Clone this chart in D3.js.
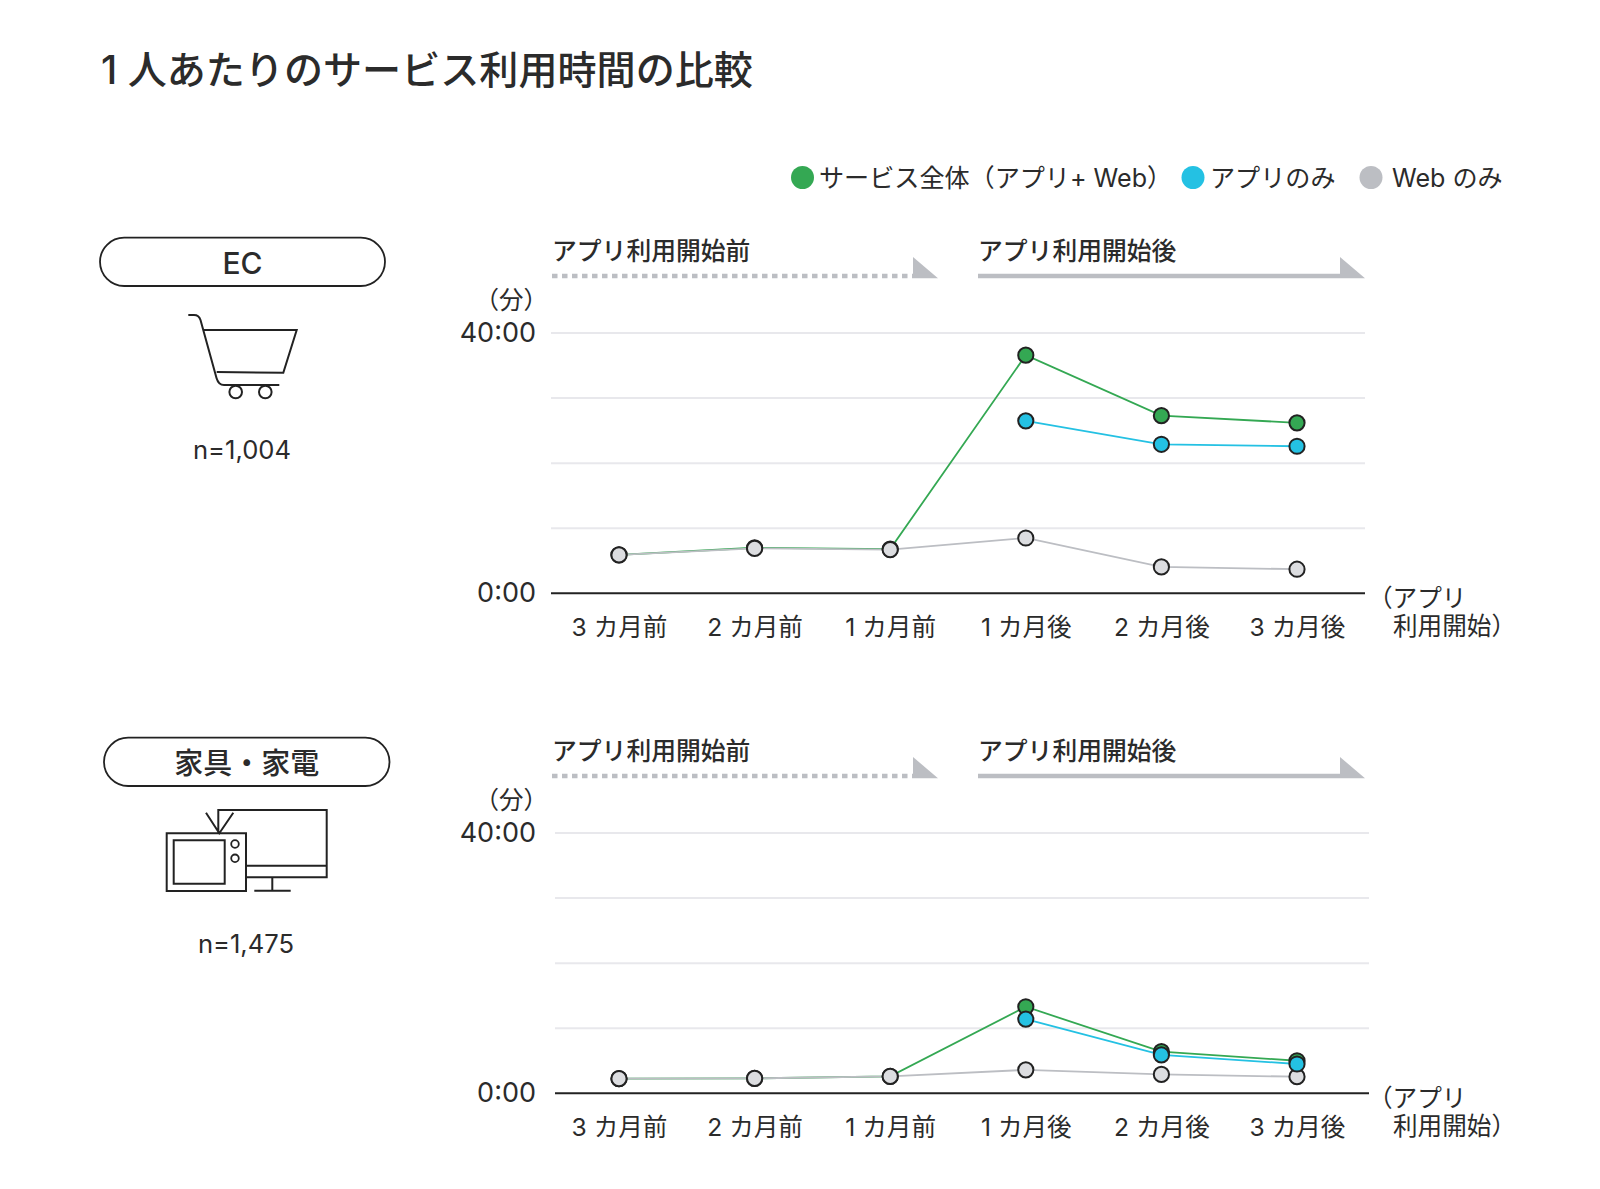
<!DOCTYPE html>
<html>
<head>
<meta charset="utf-8">
<script src="https://cdn.jsdelivr.net/npm/d3@7"></script>
<style>
  html, body { margin: 0; padding: 0; background: #fff; }
  text { font-family: Inter, "Noto Sans CJK JP", sans-serif; fill: #2b2b2b; }
</style>
</head>
<body>
<div id="chart"></div>
<script>
var months = ["3 カ月前", "2 カ月前", "1 カ月前", "1 カ月後", "2 カ月後", "3 カ月後"];
var yTicks = [0, 10, 20, 30, 40];

// minutes
var ecAll = [5.9, 7.0, 6.8, 36.6, 27.3, 26.2];
var ecApp = [null, null, null, 26.5, 22.9, 22.6];
var ecWeb = [5.9, 6.9, 6.7, 8.5, 4.05, 3.7];

var homeAll = [2.25, 2.3, 2.6, 13.3, 6.4, 5.0];
var homeApp = [null, null, null, 11.4, 5.9, 4.5];
var homeWeb = [2.25, 2.3, 2.6, 3.6, 2.9, 2.55];

var legendNames = ["サービス全体（アプリ+ Web）", "アプリのみ", "Web のみ"];
var green = "#34a853", blue = "#24c1e3", gray = "#bcbec3", ink = "#222";

var width = 1600, height = 1189;
var svg = d3.select("#chart").append("svg")
    .attr("width", width)
    .attr("height", height)
    .style("display", "block");

svg.append("text")
    .attr("x", 101).attr("y", 84)
    .style("font-size", "39.1px")
    .style("font-weight", 500)
    .text("1 人あたりのサービス利用時間の比較");

// legend
var legendX = [802.5, 1193, 1371], legendTextX = [819, 1210, 1392];
legendNames.forEach(function (name, i) {
    svg.append("circle")
        .attr("cx", legendX[i]).attr("cy", 177.5).attr("r", 11.5)
        .attr("fill", [green, blue, gray][i]);
    svg.append("text")
        .attr("x", legendTextX[i]).attr("y", 187)
        .style("font-size", "25.1px")
        .text(name);
});

var drawPanel = function (opts) {
    var g = svg.append("g").attr("transform", "translate(0," + opts.dy + ")");

    var x = d3.scalePoint().domain(months).range([619, 1297]);
    var y = d3.scaleLinear().domain([0, 40]).range([593.3, 333]);

    // period headers with the arrow heads
    var heads = [
        { label: "アプリ利用開始前", x0: 552, x1: 913, tip: 938, dash: "5.5,4.5" },
        { label: "アプリ利用開始後", x0: 978, x1: 1340, tip: 1365, dash: null }
    ];
    heads.forEach(function (h) {
        g.append("text")
            .attr("x", h.x0).attr("y", 260)
            .style("font-size", "24.8px")
            .style("font-weight", 500)
            .text(h.label);
        g.append("line")
            .attr("x1", h.x0).attr("x2", h.x1)
            .attr("y1", 276).attr("y2", 276)
            .attr("stroke", gray)
            .attr("stroke-width", 4.5)
            .attr("stroke-dasharray", h.dash);
        g.append("path")
            .attr("d", d3.line()([[h.x1, 257], [h.tip, 278.2], [h.x1, 278.2]]) + "Z")
            .attr("fill", gray);
    });

    // grid and y labels
    var yAxis = d3.axisLeft(y)
        .tickValues(yTicks)
        .tickSize(0)
        .tickPadding(0)
        .tickFormat(function (d) { return d === 0 || d === 40 ? d + ":00" : ""; });
    var yG = g.append("g").attr("transform", "translate(536,0)").call(yAxis);
    yG.select(".domain").remove();
    yG.selectAll("text").style("font-size", "27px").attr("fill", "#2b2b2b");

    g.append("g").selectAll("line").data(yTicks).join("line")
        .attr("x1", opts.left).attr("x2", opts.right)
        .attr("y1", y).attr("y2", y)
        .attr("stroke", function (d) { return d === 0 ? ink : "#e8e8ec"; })
        .attr("stroke-width", 2);

    g.append("text")
        .attr("x", 548).attr("y", 309)
        .attr("text-anchor", "end")
        .style("font-size", "24.5px")
        .text("（分）");

    // x labels
    var xAxis = d3.axisBottom(x).tickSize(0).tickPadding(0);
    var xG = g.append("g").attr("transform", "translate(0,616)").call(xAxis);
    xG.select(".domain").remove();
    xG.selectAll("text").style("font-size", "24.6px").attr("fill", "#2b2b2b").attr("dy", 20);

    g.append("text").attr("x", 1368).attr("y", 607).style("font-size", "24.6px").text("（アプリ");
    g.append("text").attr("x", 1393).attr("y", 635).style("font-size", "24.6px").text("利用開始）");

    // series, gray sits above green and blue above both
    var line = d3.line()
        .defined(function (d) { return d !== null; })
        .x(function (d, i) { return x(months[i]); })
        .y(function (d) { return y(d); });

    var series = [
        { values: opts.all, color: green, fill: green },
        { values: opts.web, color: gray, fill: "#dcdde0" },
        { values: opts.app, color: blue, fill: blue }
    ];
    series.forEach(function (s) {
        g.append("path")
            .attr("d", line(s.values))
            .attr("fill", "none")
            .attr("stroke", s.color)
            .attr("stroke-width", 1.8);
    });
    series.forEach(function (s) {
        g.append("g").selectAll("circle")
            .data(s.values.map(function (v, i) { return { v: v, m: months[i] }; })
                .filter(function (d) { return d.v !== null; }))
            .join("circle")
            .attr("cx", function (d) { return x(d.m); })
            .attr("cy", function (d) { return y(d.v); })
            .attr("r", 7.6)
            .attr("fill", s.fill)
            .attr("stroke", ink)
            .attr("stroke-width", 2);
    });
};

var drawPill = function (x0, x1, y0, y1, label, size) {
    svg.append("rect")
        .attr("x", x0).attr("y", y0)
        .attr("width", x1 - x0).attr("height", y1 - y0)
        .attr("rx", (y1 - y0) / 2)
        .attr("fill", "none")
        .attr("stroke", ink)
        .attr("stroke-width", 1.8);
    svg.append("text")
        .attr("x", (x0 + x1) / 2).attr("y", (y0 + y1) / 2 + size * 0.37 + 1)
        .attr("text-anchor", "middle")
        .style("font-size", size + "px")
        .style("font-weight", 500)
        .text(label);
};

var icon = function (d, w) {
    svg.append("path")
        .attr("d", d)
        .attr("fill", "none")
        .attr("stroke", ink)
        .attr("stroke-width", w);
};

drawPanel({ dy: 0, left: 551, right: 1365, all: ecAll, app: ecApp, web: ecWeb });
drawPanel({ dy: 500, left: 555, right: 1369, all: homeAll, app: homeApp, web: homeWeb });

// EC side
drawPill(100, 385, 237.7, 286, "EC", 30);
icon("M188.3 315H194Q199 315 200.5 320L216.5 378Q218.5 385 224 385H279.3M203.3 330H296.7L283.3 372.7L216.7 372", 2);
svg.append("circle").attr("cx", 235.7).attr("cy", 392).attr("r", 6.3).attr("fill", "#fff").attr("stroke", ink).attr("stroke-width", 2);
svg.append("circle").attr("cx", 265.3).attr("cy", 392).attr("r", 6.3).attr("fill", "#fff").attr("stroke", ink).attr("stroke-width", 2);
svg.append("text").attr("x", 242).attr("y", 459).attr("text-anchor", "middle").style("font-size", "25.6px").text("n=1,004");

// furniture and appliances side
drawPill(104, 389.5, 737.7, 786, "家具・家電", 29);
icon("M218.3 833V810H326.7V877.3H246M246 865.7H326.7M272.3 877.3V890.7M254.3 890.7H290.7M206 812.7L219.3 833.3L233.3 812.7", 2);
icon("M166.7 833.3H246V891H166.7ZM173.7 840.3H224.7V883.7H173.7Z", 2);
svg.append("circle").attr("cx", 235).attr("cy", 844).attr("r", 3.8).attr("fill", "none").attr("stroke", ink).attr("stroke-width", 1.8);
svg.append("circle").attr("cx", 235).attr("cy", 858.3).attr("r", 3.8).attr("fill", "none").attr("stroke", ink).attr("stroke-width", 1.8);
svg.append("text").attr("x", 246).attr("y", 953).attr("text-anchor", "middle").style("font-size", "25.6px").text("n=1,475");
</script>
</body>
</html>
